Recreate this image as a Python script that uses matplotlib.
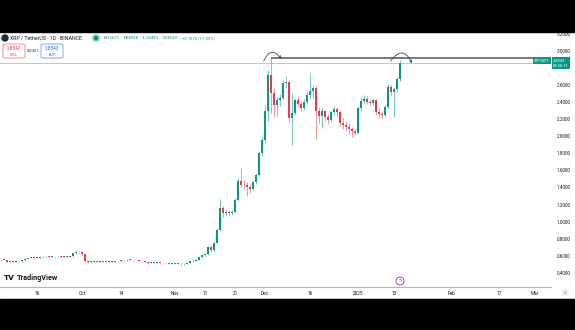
import matplotlib
matplotlib.use('Agg')
import matplotlib.pyplot as plt
import matplotlib.dates as mdates
from matplotlib.patches import Rectangle, FancyArrowPatch, FancyBboxPatch, Ellipse
import pandas as pd

plt.rcParams['font.family'] = ['Roboto', 'DejaVu Sans']

# XRP/USDT daily candles, 2024-09-04 .. 2025-01-15
start_date = '2024-09-04'
first_open = 0.548
closes = [
    0.556, 0.552, 0.530, 0.534, 0.532, 0.538, 0.535, 0.548, 0.568, 0.575,
    0.586, 0.580, 0.577, 0.588, 0.584, 0.591, 0.587, 0.589, 0.585, 0.590,
    0.588, 0.592, 0.586, 0.596, 0.628, 0.648, 0.641, 0.618, 0.545, 0.528,
    0.531, 0.534, 0.530, 0.536, 0.532, 0.529, 0.533, 0.531, 0.538, 0.535,
    0.552, 0.548, 0.556, 0.551, 0.549, 0.547, 0.541, 0.536, 0.533, 0.520,
    0.527, 0.518, 0.522, 0.516, 0.512, 0.515, 0.508, 0.511, 0.506, 0.509,
    0.503, 0.507, 0.515, 0.538, 0.545, 0.556, 0.583, 0.610, 0.622, 0.700,
    0.672, 0.752, 0.905, 1.160, 1.100, 1.115, 1.098, 1.110, 1.255, 1.480,
    1.435, 1.425, 1.405, 1.385, 1.460, 1.550, 1.800, 1.950, 2.300, 2.720,
    2.500, 2.370, 2.420, 2.450, 2.620, 2.630, 2.210, 2.270, 2.420, 2.380,
    2.330, 2.400, 2.480, 2.530, 2.560, 2.300, 2.240, 2.290, 2.220, 2.190,
    2.280, 2.320, 2.280, 2.160, 2.130, 2.110, 2.090, 2.060, 2.040, 2.330,
    2.410, 2.440, 2.400, 2.390, 2.420, 2.280, 2.260, 2.250, 2.340, 2.580,
    2.520, 2.550, 2.6673, 2.8549,
]
highs = [
    0.562, 0.560, 0.555, 0.538, 0.539, 0.542, 0.541, 0.551, 0.572, 0.580,
    0.592, 0.589, 0.585, 0.592, 0.593, 0.596, 0.595, 0.594, 0.592, 0.595,
    0.594, 0.598, 0.596, 0.601, 0.636, 0.668, 0.660, 0.646, 0.622, 0.551,
    0.537, 0.539, 0.538, 0.540, 0.540, 0.536, 0.538, 0.537, 0.542, 0.542,
    0.556, 0.557, 0.561, 0.560, 0.555, 0.552, 0.550, 0.545, 0.540, 0.536,
    0.531, 0.530, 0.526, 0.525, 0.519, 0.519, 0.518, 0.515, 0.514, 0.513,
    0.511, 0.511, 0.519, 0.545, 0.552, 0.562, 0.590, 0.620, 0.635, 0.712,
    0.715, 0.768, 0.925, 1.270, 1.180, 1.150, 1.140, 1.135, 1.280, 1.510,
    1.630, 1.490, 1.470, 1.440, 1.480, 1.575, 1.830, 1.985, 2.360, 2.780,
    2.920, 2.560, 2.460, 2.490, 2.660, 2.700, 2.650, 2.500, 2.450, 2.470,
    2.410, 2.430, 2.520, 2.740, 2.600, 2.590, 2.340, 2.330, 2.310, 2.260,
    2.300, 2.350, 2.340, 2.300, 2.210, 2.170, 2.150, 2.110, 2.090, 2.350,
    2.460, 2.480, 2.470, 2.430, 2.440, 2.430, 2.340, 2.300, 2.360, 2.610,
    2.600, 2.570, 2.690, 2.8928,
]
lows = [
    0.543, 0.546, 0.526, 0.527, 0.528, 0.529, 0.531, 0.533, 0.545, 0.563,
    0.571, 0.575, 0.572, 0.573, 0.579, 0.580, 0.582, 0.583, 0.580, 0.581,
    0.583, 0.584, 0.581, 0.582, 0.592, 0.622, 0.632, 0.608, 0.532, 0.516,
    0.522, 0.526, 0.525, 0.526, 0.528, 0.524, 0.525, 0.527, 0.528, 0.531,
    0.532, 0.543, 0.544, 0.546, 0.544, 0.542, 0.536, 0.531, 0.526, 0.503,
    0.515, 0.512, 0.513, 0.511, 0.507, 0.508, 0.503, 0.504, 0.501, 0.502,
    0.497, 0.499, 0.503, 0.512, 0.532, 0.540, 0.552, 0.578, 0.600, 0.615,
    0.640, 0.662, 0.745, 0.895, 1.050, 1.070, 1.065, 1.080, 1.100, 1.245,
    1.410, 1.380, 1.300, 1.330, 1.370, 1.445, 1.540, 1.770, 1.930, 2.180,
    2.270, 2.220, 2.240, 2.350, 2.420, 2.560, 2.170, 1.900, 2.250, 2.340,
    2.300, 2.310, 2.380, 2.440, 2.450, 1.970, 2.150, 2.100, 2.180, 2.150,
    2.170, 2.250, 2.230, 2.120, 2.090, 2.060, 2.030, 1.990, 2.010, 2.030,
    2.310, 2.390, 2.380, 2.360, 2.370, 2.250, 2.220, 2.200, 2.230, 2.320,
    2.480, 2.230, 2.520, 2.6490,
]

# 2.8000 sits under the last-price tag, so it is left off the scale
price_ticks = [0.4, 0.6, 0.8, 1.0, 1.2, 1.4, 1.6, 1.8, 2.0, 2.2, 2.4, 2.6, 3.0, 3.2]
tick_dates = ['2024-09-16', '2024-10-01', '2024-10-14', '2024-11-01', '2024-11-11',
              '2024-11-21', '2024-12-01', '2024-12-16', '2025-01-01', '2025-01-13',
              '2025-02-01', '2025-02-17', '2025-03-01']
tick_labels = ['16', 'Oct', '14', 'Nov', '11', '21', 'Dec', '16', '2025', '13',
               'Feb', '17', 'Mar']

symbol_title = 'XRP / TetherUS · 1D · BINANCE'
ohlc_header = [('O', '2.6673'), ('H', '2.8928'), ('L', '2.6490'), ('C', '2.8549')]
change_text = '+0.1876 (+7.03%)'
sell_price, buy_price, spread = '2.8542', '2.8543', '0.0001'
last_time = '09:56:17'

UP = '#089981'
DOWN = '#f23645'
TEXT = '#131722'

W, H = 575, 330


def fx(x):
    return x / W


def fy(y):
    return 1 - y / H


dates = pd.date_range(start_date, periods=len(closes), freq='D')
opens = [first_open] + closes[:-1]
opens[-1] = 2.6673
xd = mdates.date2num(dates)

fig = plt.figure(figsize=(W / 100, H / 100), dpi=100, facecolor='white')
ax = fig.add_axes([0, fy(287), fx(551), fy(32) - fy(287)])
ax.set_facecolor('white')

# candles
for x, o, h, l, c in zip(xd, opens, highs, lows, closes):
    col = UP if c >= o else DOWN
    ax.vlines(x, l, h, color=col, linewidth=0.7, alpha=0.55, zorder=2)
    body = max(abs(c - o), 0.007)
    ax.bar(x, body, bottom=min(o, c), width=0.74, color=col, linewidth=0, zorder=3)

ax.set_xlim(xd[0] - 0.35, xd[0] + 183.3)
ax.set_ylim(0.236, 3.219)

# last price line
ax.axhline(closes[-1], color=UP, linewidth=0.6, alpha=0.45, zorder=1)

# resistance line from the December high
peak = max(range(len(highs)), key=lambda i: highs[i])
ax.hlines(highs[peak], xd[peak], ax.get_xlim()[1], color='#6a6d78', linewidth=1.3, zorder=4)

# curved arrows over the two tops
for i, a, b, ya, yb in [(peak, -2.8, 4.0, -0.07, -0.04), (len(highs) - 1, -3.7, 4.3, -0.04, -0.07)]:
    arr = FancyArrowPatch((xd[i] + a, highs[i] + ya), (xd[i] + b, highs[i] + yb),
                          connectionstyle='arc3,rad=-0.95', arrowstyle='->',
                          mutation_scale=4, linewidth=0.6, color='#434651', zorder=5)
    ax.add_patch(arr)

# axes styling
for s in ['top', 'left', 'right']:
    ax.spines[s].set_visible(False)
ax.spines['bottom'].set_color('#b2b5be')
ax.spines['bottom'].set_linewidth(0.8)
ax.yaxis.tick_right()
ax.set_yticks(price_ticks)
ax.set_yticklabels([f'{p:.4f}' for p in price_ticks])
ax.tick_params(axis='y', length=0, pad=4, labelsize=3.3, labelcolor=TEXT)
ax.set_xticks(mdates.date2num(pd.to_datetime(tick_dates)))
ax.set_xticklabels(tick_labels)
ax.tick_params(axis='x', length=0, pad=3.2, labelsize=3.4, labelcolor=TEXT)

# price label on the right scale
blend = matplotlib.transforms.blended_transform_factory(ax.transAxes, ax.transData)
ax.text(1.004, closes[-1], f'{closes[-1]:.4f}\n{last_time}', transform=blend,
        fontsize=2.9, color='white', ha='left', va='center', linespacing=1.4,
        bbox=dict(boxstyle='square,pad=0.35', fc=UP, ec='none'), clip_on=False, zorder=6)
ax.text(0.998, closes[-1] + 0.03, 'XRPUSDT', transform=blend, fontsize=2.6, color='white',
        ha='right', va='center', bbox=dict(boxstyle='square,pad=0.3', fc=UP, ec='none'),
        clip_on=False, zorder=6)

# header
fig.add_artist(Ellipse((fx(5), fy(38)), 6 / W, 6 / H, color='#23292f'))
fig.text(fx(10), fy(38), symbol_title, fontsize=3.8, color=TEXT, va='center')
fig.add_artist(Ellipse((fx(96), fy(38)), 7 / W, 7 / H, color=UP, alpha=0.25))
fig.add_artist(Ellipse((fx(96), fy(38)), 3.5 / W, 3.5 / H, color=UP))
px = 104
for k, v in ohlc_header:
    fig.text(fx(px), fy(38), k, fontsize=3.0, color=TEXT, va='center')
    fig.text(fx(px + 2.7), fy(38), v, fontsize=3.0, color=UP, va='center')
    px += 19.5
fig.text(fx(px), fy(38), change_text, fontsize=3.0, color=UP, va='center')

# sell / buy boxes
for x0, price, label, col in [(3, sell_price, 'SELL', DOWN), (41, buy_price, 'BUY', '#2962ff')]:
    fig.add_artist(FancyBboxPatch((fx(x0), fy(58)), 22 / W, 14 / H,
                                  boxstyle='round,pad=0,rounding_size=0.004',
                                  fc='white', ec=col, linewidth=0.5, alpha=0.8))
    fig.text(fx(x0 + 11), fy(48), price, fontsize=3.3, color=col, ha='center', va='center')
    fig.text(fx(x0 + 11), fy(54.5), label, fontsize=2.7, color=col, ha='center', va='center')
fig.text(fx(33), fy(50.5), spread, fontsize=2.8, color=TEXT, ha='center', va='center')

# footer
fig.text(fx(4), fy(278), 'TV', fontsize=6, fontweight='heavy', color=TEXT, va='center')
fig.text(fx(17), fy(278), 'TradingView', fontsize=5.2, fontweight='bold', color=TEXT, va='center')
fig.add_artist(Ellipse((fx(400), fy(281)), 8 / W, 8 / H, fc='white', ec='#9c27b0', linewidth=0.6))
fig.text(fx(400), fy(281), 'ϟ', fontsize=3.5, color='#9c27b0', ha='center', va='center')
fig.add_artist(FancyBboxPatch((fx(561), fy(296)), 8 / W, 7 / H,
                              boxstyle='round,pad=0,rounding_size=0.004',
                              fc='#f0f3fa', ec='none'))
fig.text(fx(565), fy(292.5), 'A', fontsize=3, color='#787b86', ha='center', va='center')

# dark bands above and below the chart
fig.add_artist(Rectangle((0, fy(32)), 1, 1 - fy(32), color='black', zorder=20))
fig.add_artist(Rectangle((0, 0), 1, fy(299), color='black', zorder=20))

fig.savefig('out.png', dpi=100, facecolor='white')
